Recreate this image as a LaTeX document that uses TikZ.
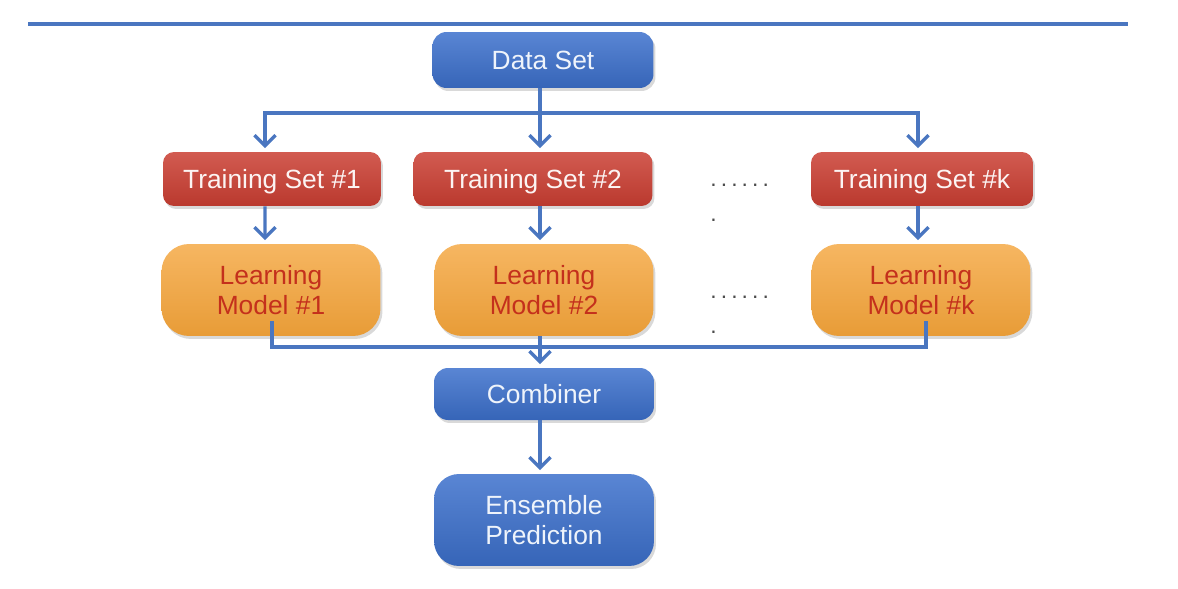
\documentclass[tikz,border=0pt]{standalone}
\usepackage{fontspec}
\setmainfont{Liberation Sans}
\usepackage{xcolor}
\usepackage{tikz}
\usetikzlibrary{arrows.meta,shadows}
\definecolor{boxblue}{RGB}{60,112,204}
\definecolor{boxred}{RGB}{202,62,50}
\definecolor{boxorange}{RGB}{244,164,58}
\definecolor{textred}{RGB}{196,48,28}
\definecolor{linkblue}{RGB}{74,118,192}

\begin{document}
\begin{tikzpicture}[x=0.02cm,y=-0.02cm,font=\fontsize{15}{17}\selectfont,
  box/.style={draw=none,align=center,inner sep=0pt,
    drop shadow={shadow xshift=0.04cm,shadow yshift=-0.06cm,opacity=0.3}},
  oneline/.style={text height=10.8pt,text depth=0pt},
  bluebox/.style={box,rounded corners=0.28cm,top color=boxblue!85!white,bottom color=boxblue!90!black,text=white!92!boxblue},
  redbox/.style={box,oneline,rounded corners=0.22cm,top color=boxred!85!white,bottom color=boxred!92!black,text=white!94!boxred,minimum height=1.08cm},
  modelbox/.style={box,rounded corners=0.55cm,top color=boxorange!80!white,bottom color=boxorange!95!black,text=textred,minimum width=4.38cm,minimum height=1.84cm},
  dots/.style={text=black!70,align=left,inner sep=0pt,anchor=west,font=\fontsize{13}{16}\selectfont\addfontfeature{LetterSpace=18}},
  link/.style={linkblue,line width=1.9pt},
  arr/.style={link,-{Straight Barb[length=6pt,width=12pt]},shorten >=2pt}]

\useasboundingbox (0,0) rectangle (1178,589);

% Title rule
\draw[link] (28,24) -- (1128,24);

% Data set
\node[bluebox,oneline,minimum width=4.42cm,minimum height=1.12cm] (ds) at (543,60) {Data Set};

% Training sets
\node[redbox,minimum width=4.36cm] (ts1) at (272,179) {Training Set \#1};
\node[redbox,minimum width=4.78cm] (ts2) at (533,179) {Training Set \#2};
\node[redbox,minimum width=4.44cm] (tsk) at (922,179) {Training Set \#k};

% Learning models
\node[modelbox] (lm1) at (271,290) {Learning\\Model \#1};
\node[modelbox] (lm2) at (544,290) {Learning\\Model \#2};
\node[modelbox] (lmk) at (921,290) {Learning\\Model \#k};

% Combiner and prediction
\node[bluebox,oneline,minimum width=4.4cm,minimum height=1.04cm] (cb) at (544,394) {Combiner};
\node[bluebox,rounded corners=0.5cm,minimum width=4.4cm,minimum height=1.84cm] (ep) at (544,520) {Ensemble\\Prediction};

% Dots between the columns
\foreach \y/\name in {183/dtop,295/dbot}
  \node[dots] (\name) at (710,\y+20) {......\\[4pt].};

% Split the data set
\coordinate (split) at (540,113);
\draw[link] (split |- ds.south) -- (split);
\draw[arr] (split) -| ([xshift=-0.14cm]ts1.north);
\draw[arr] (split) -- (split |- ts2.north);
\draw[arr] (split) -| ([xshift=-0.08cm]tsk.north);

% Training set to model
\draw[arr] ([xshift=-0.14cm]ts1.south) -- ([xshift=-0.12cm]lm1.north);
\draw[arr] (split |- ts2.south) -- (split |- lm2.north);
\draw[arr] ([xshift=-0.08cm]tsk.south) -- ([xshift=-0.06cm]lmk.north);

% Models to combiner
\coordinate (join) at (540,347);
\draw[link] ([xshift=0.02cm,yshift=0.3cm]lm1.south) |- (join) -| ([xshift=0.1cm,yshift=0.3cm]lmk.south);
\draw[arr] (join |- lm2.south) -- (join |- cb.north);
\draw[arr] (join |- cb.south) -- (join |- ep.north);

\end{tikzpicture}
\end{document}
